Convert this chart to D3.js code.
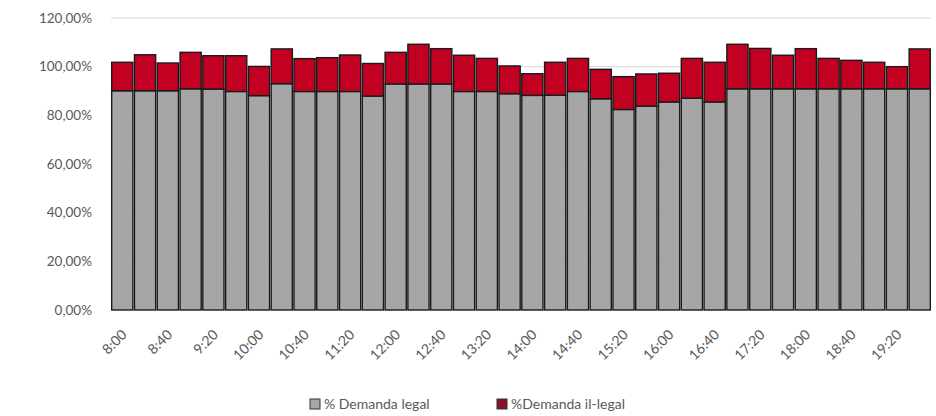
<!DOCTYPE html>
<html>
<head>
<meta charset="UTF-8">
<title>Demanda legal vs il-legal</title>
<script src="https://d3js.org/d3.v7.min.js"></script>
<style>
  body { margin: 0; background: #fff; }
  text { font-family: "Lato", "Open Sans", sans-serif; fill: #595959; }
</style>
</head>
<body>
<div id="chart"></div>
<script>
// horas (cada 20 minutos)
var horas = ["8:00","8:20","8:40","9:00","9:20","9:40","10:00","10:20","10:40","11:00",
             "11:20","11:40","12:00","12:20","12:40","13:00","13:20","13:40","14:00","14:20",
             "14:40","15:00","15:20","15:40","16:00","16:20","16:40","17:00","17:20","17:40",
             "18:00","18:20","18:40","19:00","19:20","19:40"];

// % demanda legal
var legal = [90.1,90.1,90.1,90.9,90.8,89.8,88.1,93.0,89.8,89.8,
             89.8,87.9,92.9,92.9,92.9,89.8,89.8,88.9,88.2,88.3,
             89.8,86.8,82.4,83.8,85.5,87.0,85.5,90.9,90.9,90.9,
             90.9,90.9,90.9,90.9,90.9,90.9];

// % demanda il-legal
var ilegal = [11.7,14.8,11.4,15.0,13.7,14.7,12.0,14.3,13.5,13.9,
              15.0,13.4,13.0,16.3,14.5,14.9,13.6,11.4,8.9,13.5,
              13.6,12.1,13.5,13.2,11.8,16.4,16.3,18.3,16.6,13.8,
              16.5,12.5,11.7,10.9,9.1,16.4];

var yTicks = [0, 20, 40, 60, 80, 100, 120];
var series = ["% Demanda legal", "%Demanda il-legal"];
var colors = ["#a6a6a6", "#c20022"];

var width = 936, height = 416;
var margin = {top: 18, right: 5, bottom: 106, left: 111};

var svg = d3.select("#chart").append("svg")
    .attr("width", width).attr("height", height);

var x = d3.scaleBand().domain(horas)
    .range([margin.left, width - margin.right]).paddingInner(0.07).paddingOuter(0.03);
var y = d3.scaleLinear().domain([0, 120]).range([height - margin.bottom, margin.top]);

// grid lines
svg.append("g").selectAll("line").data(yTicks.filter(function(d){ return d > 0; }))
  .enter().append("line")
    .attr("x1", margin.left).attr("x2", width - margin.right)
    .attr("y1", function(d){ return y(d); }).attr("y2", function(d){ return y(d); })
    .attr("stroke", "#d9d9d9").attr("stroke-width", 1);

// y labels
var fmt = function(d){ return d3.format(".2f")(d).replace(".", ",") + "%"; };
svg.append("g").selectAll("text").data(yTicks).enter().append("text")
    .attr("x", margin.left - 19).attr("y", function(d){ return y(d); })
    .attr("dy", "0.35em").attr("text-anchor", "end")
    .style("font-size", "13.5px")
    .text(fmt);

// stacked bars
var rows = horas.map(function(h, i){ return {h: h, legal: legal[i], ilegal: ilegal[i]}; });
var stack = d3.stack().keys(["legal", "ilegal"])(rows);

svg.append("g").selectAll("g").data(stack).enter().append("g")
    .attr("fill", function(d, i){ return colors[i]; })
  .selectAll("rect").data(function(d){ return d; }).enter().append("rect")
    .attr("x", function(d){ return x(d.data.h); })
    .attr("width", x.bandwidth())
    .attr("y", function(d){ return y(d[1]); })
    .attr("height", function(d){ return y(d[0]) - y(d[1]); })
    .attr("stroke", "#1a1a1a").attr("stroke-width", 1.4);

// x labels, every second hour
svg.append("g").selectAll("text").data(horas.filter(function(d, i){ return i % 2 === 0; }))
  .enter().append("text")
    .attr("transform", function(d){
      return "translate(" + (x(d) + x.bandwidth() / 2 + 2) + "," + (height - margin.bottom + 22) + ") rotate(-45)";
    })
    .attr("text-anchor", "end").attr("dy", "0.35em")
    .style("font-size", "14px")
    .text(function(d){ return d; });

// legend
var legend = svg.append("g");
var lx = [310, 497];
series.forEach(function(s, i){
  legend.append("rect")
    .attr("x", lx[i]).attr("y", 399).attr("width", 10).attr("height", 10)
    .attr("fill", i === 0 ? colors[0] : "#8a1030").attr("stroke", "#333").attr("stroke-width", 1);
  legend.append("text")
    .attr("x", lx[i] + 14).attr("y", 404).attr("dy", "0.35em")
    .style("font-size", "14px")
    .text(s);
});
</script>
</body>
</html>
